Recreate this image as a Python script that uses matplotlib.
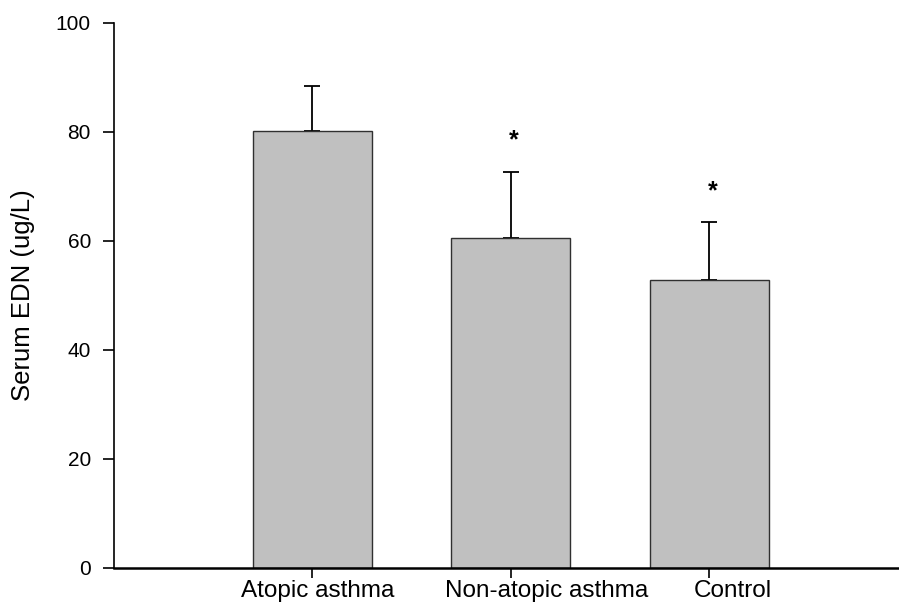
import matplotlib.pyplot as plt
from matplotlib.transforms import ScaledTranslation

plt.rcParams['font.family'] = ['Liberation Sans', 'DejaVu Sans']

groups = ["Atopic asthma", "Non-atopic asthma", "Control"]
edn_mean = [80.2, 60.5, 52.9]
edn_err = [8.2, 12.2, 10.5]
significant = [False, True, True]

fig = plt.figure(figsize=(8.99, 6.02), dpi=100)
ax = fig.add_axes([0.1268, 0.0565, 0.883, 0.9058])

xs = list(range(len(groups)))
ax.bar(xs, edn_mean, width=0.6, color="#c0c0c0", edgecolor="#303030",
       linewidth=1.0, zorder=2)
ax.errorbar(xs, edn_mean, yerr=[[0] * len(xs), edn_err], fmt="none",
            ecolor="black", elinewidth=1.3, capsize=6, capthick=1.3, zorder=1)

# asterisks mark groups that differ from atopic asthma
for x, m, e, sig in zip(xs, edn_mean, edn_err, significant):
    if sig:
        ax.text(x + 0.015, m + e + 4.4, "*", ha="center", va="baseline",
                fontsize=18, fontweight="bold")

ax.set_xlim(-1, 3)
ax.set_ylim(0, 100)
ax.set_yticks([0, 20, 40, 60, 80, 100])
ax.set_xticks(xs)
ax.set_xticklabels(groups)
ax.set_ylabel("Serum EDN (ug/L)", fontsize=18.5, labelpad=15)

ax.spines["top"].set_visible(False)
ax.spines["right"].set_visible(False)
ax.spines["left"].set_linewidth(1.2)
ax.spines["bottom"].set_linewidth(1.8)
ax.tick_params(axis="y", direction="out", length=8, width=1.2,
               labelsize=15, pad=8.6)
ax.tick_params(axis="x", direction="out", length=7.5, width=1.2,
               labelsize=17.5, pad=1.5)

# the category names sit a little right of their ticks
shifts = [4, 26, 17]
for lab, dx in zip(ax.get_xticklabels(), shifts):
    lab.set_transform(lab.get_transform() +
                      ScaledTranslation(dx / 72, 0, fig.dpi_scale_trans))

fig.savefig("out.png", dpi=100)
